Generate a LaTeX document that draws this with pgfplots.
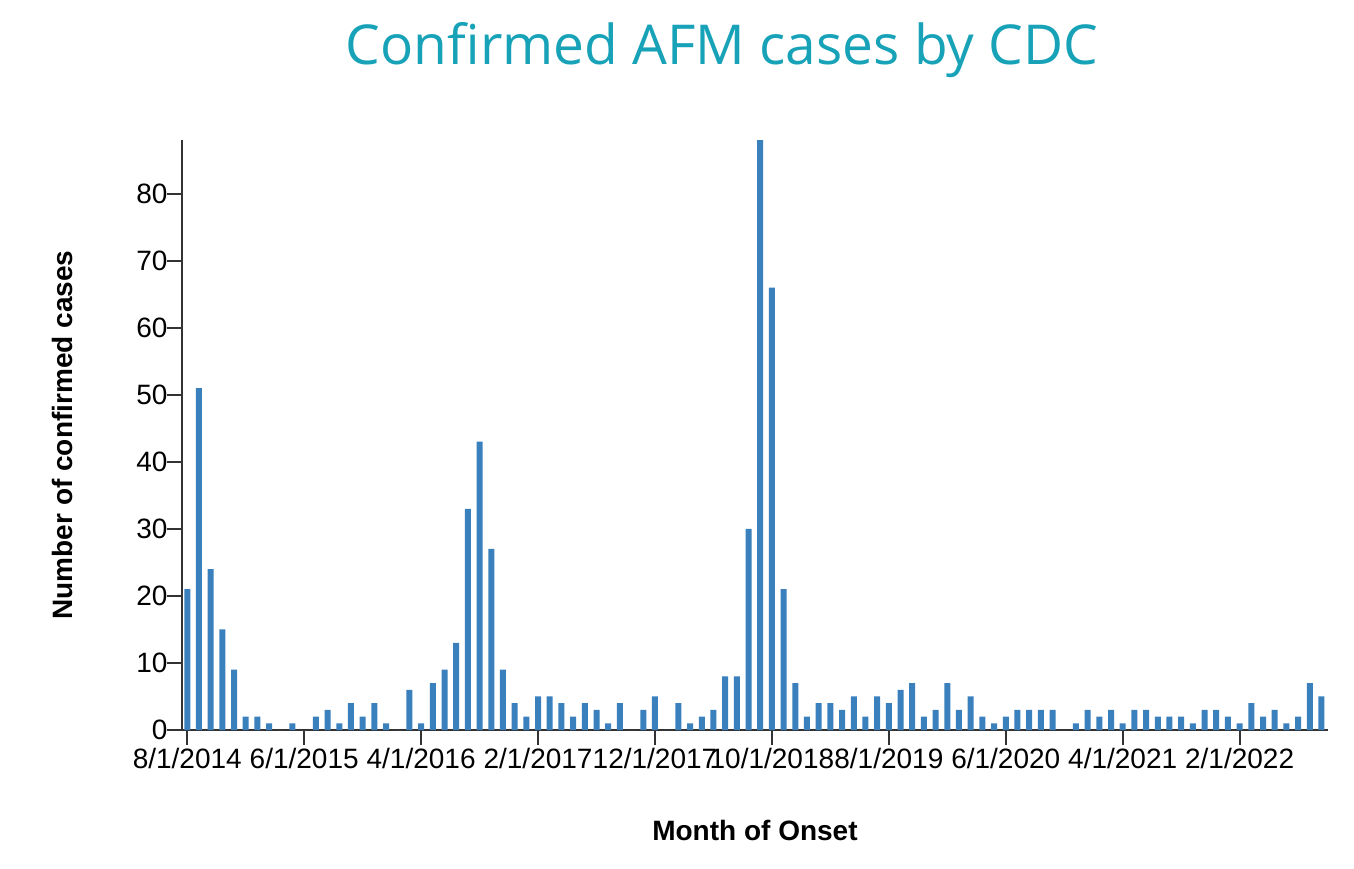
\documentclass[border=0pt]{standalone}
\usepackage{fontspec}
\setmainfont{Liberation Sans}
\newfontfamily\titlefont{Open Sans}
\usepackage{pgfplots}
\usepackage{pgfplotstable}
\pgfplotsset{compat=1.18}
\definecolor{barblue}{RGB}{58,128,189}
\definecolor{titleteal}{RGB}{23,162,184}
\definecolor{axisgray}{RGB}{51,51,51}
\pgfplotstableread{
m c
0 21
1 51
2 24
3 15
4 9
5 2
6 2
7 1
8 0
9 1
10 0
11 2
12 3
13 1
14 4
15 2
16 4
17 1
18 0
19 6
20 1
21 7
22 9
23 13
24 33
25 43
26 27
27 9
28 4
29 2
30 5
31 5
32 4
33 2
34 4
35 3
36 1
37 4
38 0
39 3
40 5
41 0
42 4
43 1
44 2
45 3
46 8
47 8
48 30
49 88
50 66
51 21
52 7
53 2
54 4
55 4
56 3
57 5
58 2
59 5
60 4
61 6
62 7
63 2
64 3
65 7
66 3
67 5
68 2
69 1
70 2
71 3
72 3
73 3
74 3
75 0
76 1
77 3
78 2
79 3
80 1
81 3
82 3
83 2
84 2
85 2
86 1
87 3
88 3
89 2
90 1
91 4
92 2
93 3
94 1
95 2
96 7
97 5
}\afmdata
\begin{document}
\begin{tikzpicture}[x=1pt,y=1pt]
\useasboundingbox (0,0) rectangle (1354,868);
\node[anchor=base, font=\titlefont\fontsize{55}{60}\selectfont, text=titleteal, inner sep=0pt] at (722,803) {Confirmed AFM cases by CDC};
\begin{axis}[
  at={(182pt,138pt)}, anchor=south west,
  scale only axis, width=1146pt, height=590pt,
  xmin=-0.45, xmax=97.55, ymin=0, ymax=88,
  axis x line=bottom, axis y line=left,
  axis line style={-, line width=2pt, draw=axisgray},
  every tick/.style={line width=2pt, draw=axisgray},
  tick align=outside, major tick length=15pt,
  xtick={0,10,...,90},
  xticklabels={8/1/2014,6/1/2015,4/1/2016,2/1/2017,12/1/2017,10/1/2018,8/1/2019,6/1/2020,4/1/2021,2/1/2022},
  ytick={0,10,...,80},
  /pgf/number format/assume math mode=true,
  ticklabel style={font=\fontsize{28}{31}\selectfont, text=black},
  yticklabel style={xshift=4pt},
  xlabel={Month of Onset}, ylabel={Number of confirmed cases},
  label style={font=\bfseries\fontsize{28}{31}\selectfont},
  xlabel style={at={(axis description cs:0.5,-0.1695)}, anchor=center},
  ylabel style={at={(axis description cs:-0.104,0.5)}, anchor=center},
  clip=false,
]
\addplot[ybar, bar width=6pt, fill=barblue, draw=none] table[x=m, y=c] {\afmdata};
\end{axis}
\end{tikzpicture}
\end{document}
